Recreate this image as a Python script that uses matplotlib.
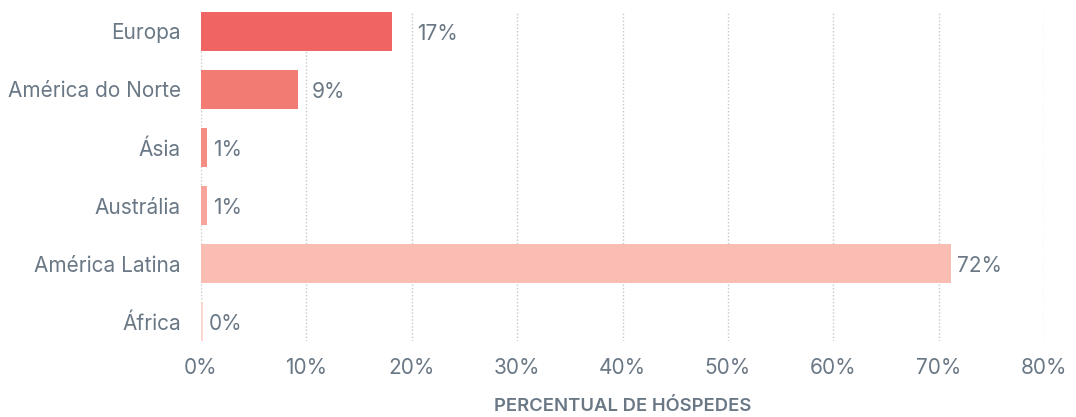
import matplotlib
matplotlib.use("Agg")
import matplotlib.pyplot as plt
from matplotlib.ticker import FuncFormatter

categories = ["Europa", "América do Norte", "Ásia", "Austrália", "América Latina", "África"]
values = [18.1, 9.2, 0.55, 0.55, 71.2, 0.2]
value_labels = ["17%", "9%", "1%", "1%", "72%", "0%"]
colors = ["#F06464", "#F27B73", "#F48D84", "#F7A59C", "#F9BDB4", "#FBD5CE"]
xticks = [0, 10, 20, 30, 40, 50, 60, 70, 80]
xlabel = "PERCENTUAL DE HÓSPEDES"

TEXT = "#6A7886"
plt.rcParams["font.family"] = ["Inter", "DejaVu Sans"]

W, H = 1076, 417
fig = plt.figure(figsize=(W / 100, H / 100), dpi=100)
ax = fig.add_axes([201 / W, 1 - 341 / H, (1044 - 201) / W, (341 - 12) / H])

ypos = list(range(len(categories)))
bh = 0.67
ax.barh(ypos, values, height=bh, color=colors, zorder=2)
ax.set_ylim(len(categories) - 1 + bh / 2, -bh / 2)
ax.set_xlim(0, 80)

for x in xticks:
    ax.axvline(x, color="#C8C8C8", lw=1, ls=(0, (1, 1.5)), zorder=1)

ax.set_xticks(xticks)
ax.xaxis.set_major_formatter(FuncFormatter(lambda v, p: f"{v:.0f}%"))
ax.set_yticks(ypos)
ax.set_yticklabels(categories)
ax.tick_params(axis="both", length=0, labelsize=15, colors=TEXT)
ax.tick_params(axis="y", pad=14.5)
ax.tick_params(axis="x", pad=12)
for s in ax.spines.values():
    s.set_visible(False)

px_per_unit = (1044 - 201) / 80.0
off = 6 / px_per_unit
tw = 38 / px_per_unit
for y, v, lab in zip(ypos, values, value_labels):
    xt = v + off
    for g in xticks:
        if xt - 3 / px_per_unit <= g <= xt + tw:
            xt = g + 5 / px_per_unit
    ax.text(xt, y + 0.04, lab, va="center", ha="left", fontsize=15, color=TEXT)

ax.set_xlabel(xlabel, fontsize=13.3, fontweight="semibold", color=TEXT, labelpad=14.5)

fig.savefig("out.png", dpi=100)
